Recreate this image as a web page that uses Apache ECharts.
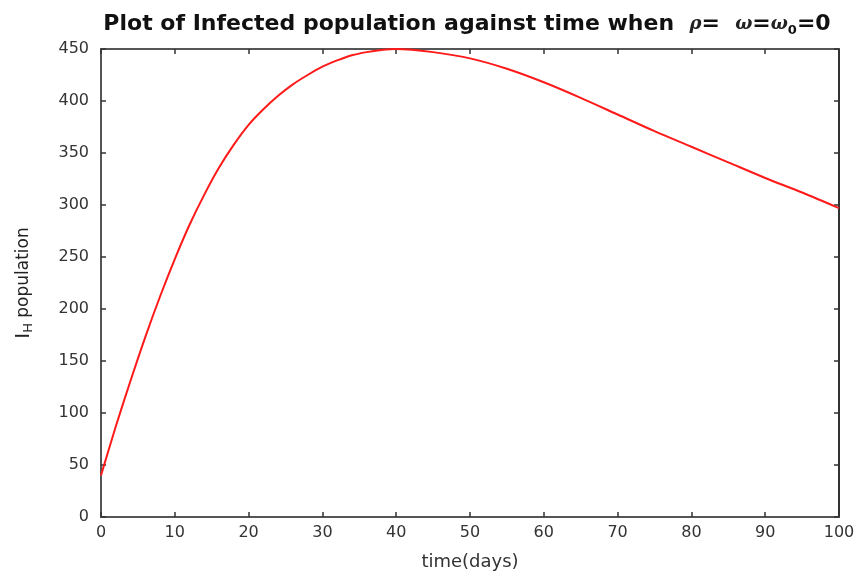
<!DOCTYPE html>
<html>
<head>
<meta charset="utf-8">
<script src="https://cdn.jsdelivr.net/npm/echarts@6/dist/echarts.min.js"></script>
<style>
html, body { margin: 0; padding: 0; background: #fff; }
#main { width: 854px; height: 574px; }
</style>
</head>
<body>
<div id="main"></div>
<script>
var days = [0, 2, 4, 6, 8, 10, 12, 14, 16, 18, 20, 22, 24, 26, 28, 30, 32, 34, 36, 38, 40,
            45, 50, 55, 60, 65, 70, 75, 80, 85, 90, 95, 100];
var infected = [40, 87, 131, 173, 212, 248, 281, 310, 336, 358, 377, 392, 405, 416, 425, 433, 439, 444, 447, 449, 450,
                447, 441, 431, 418, 403, 387, 371, 356, 341, 326, 312, 297];
var xTicks = [0, 10, 20, 30, 40, 50, 60, 70, 80, 90, 100];
var yTicks = [0, 50, 100, 150, 200, 250, 300, 350, 400, 450];

var points = days.map(function (d, i) { return [d, infected[i]]; });

var frame = { show: true, onZero: false, lineStyle: { color: '#555', width: 2 } };
var inTicks = { show: true, inside: true, length: 5, lineStyle: { color: '#333', width: 1.5 } };

var option = {
    backgroundColor: '#fff',
    animation: false,
    title: {
        text: '{b|Plot of Infected population against time when  }{g|ρ}{b|=  }{g|ω}{b|=}{g|ω}{s|0}{b|=0}',
        left: 462,
        textAlign: 'center',
        top: 7,
        textStyle: {
            rich: {
                b: { fontFamily: 'DejaVu Sans', fontWeight: 'bold', fontSize: 22, color: '#111' },
                g: { fontFamily: 'DejaVu Serif', fontStyle: 'italic', fontSize: 18, color: '#222' },
                s: { fontFamily: 'DejaVu Sans', fontWeight: 'bold', fontSize: 13, color: '#111', padding: [12, 0, 0, 0] }
            }
        }
    },
    grid: { left: 101, right: 15, top: 49, bottom: 57, containLabel: false, outerBoundsMode: 'none' },
    xAxis: [
        {
            type: 'value', min: 0, max: 100, interval: 10,
            position: 'bottom',
            name: 'time(days)', nameLocation: 'middle', nameGap: 36,
            nameTextStyle: { color: '#333', fontSize: 18, fontFamily: 'DejaVu Sans' },
            axisLine: frame, axisTick: inTicks,
            axisLabel: { color: '#333', fontSize: 16, fontFamily: 'DejaVu Sans', margin: 8,
                customValues: xTicks },
            splitLine: { show: false }
        },
        {
            type: 'value', min: 0, max: 100, interval: 10,
            position: 'top',
            axisLine: frame, axisTick: inTicks,
            axisLabel: { show: false }, splitLine: { show: false }
        }
    ],
    yAxis: [
        {
            type: 'value', min: 0, max: 450, interval: 50,
            position: 'left',
            name: '{i|I}{h|H}{p| population}', nameLocation: 'middle', nameGap: 66, nameRotate: 90,
            nameTextStyle: {
                rich: {
                    i: { fontFamily: 'DejaVu Sans', fontSize: 20, color: '#222' },
                    h: { fontFamily: 'DejaVu Sans', fontSize: 13, color: '#222', padding: [10, 0, 0, 0] },
                    p: { fontFamily: 'DejaVu Sans', fontSize: 17, color: '#222' }
                }
            },
            axisLine: frame, axisTick: inTicks,
            axisLabel: { color: '#333', fontSize: 16, fontFamily: 'DejaVu Sans', margin: 12,
                customValues: yTicks },
            splitLine: { show: false }
        },
        {
            type: 'value', min: 0, max: 450, interval: 50,
            position: 'right',
            axisLine: { show: true, onZero: false, lineStyle: { color: '#333', width: 2 } }, axisTick: inTicks,
            axisLabel: { show: false }, splitLine: { show: false }
        }
    ],
    series: [
        {
            name: 'I_H',
            type: 'line',
            smooth: 0.3,
            showSymbol: false,
            xAxisIndex: 0,
            yAxisIndex: 0,
            lineStyle: { color: '#ff1a1a', width: 2 },
            data: points
        }
    ]
};

var myChart = echarts.init(document.getElementById('main'));
myChart.setOption(option);
</script>
</body>
</html>
